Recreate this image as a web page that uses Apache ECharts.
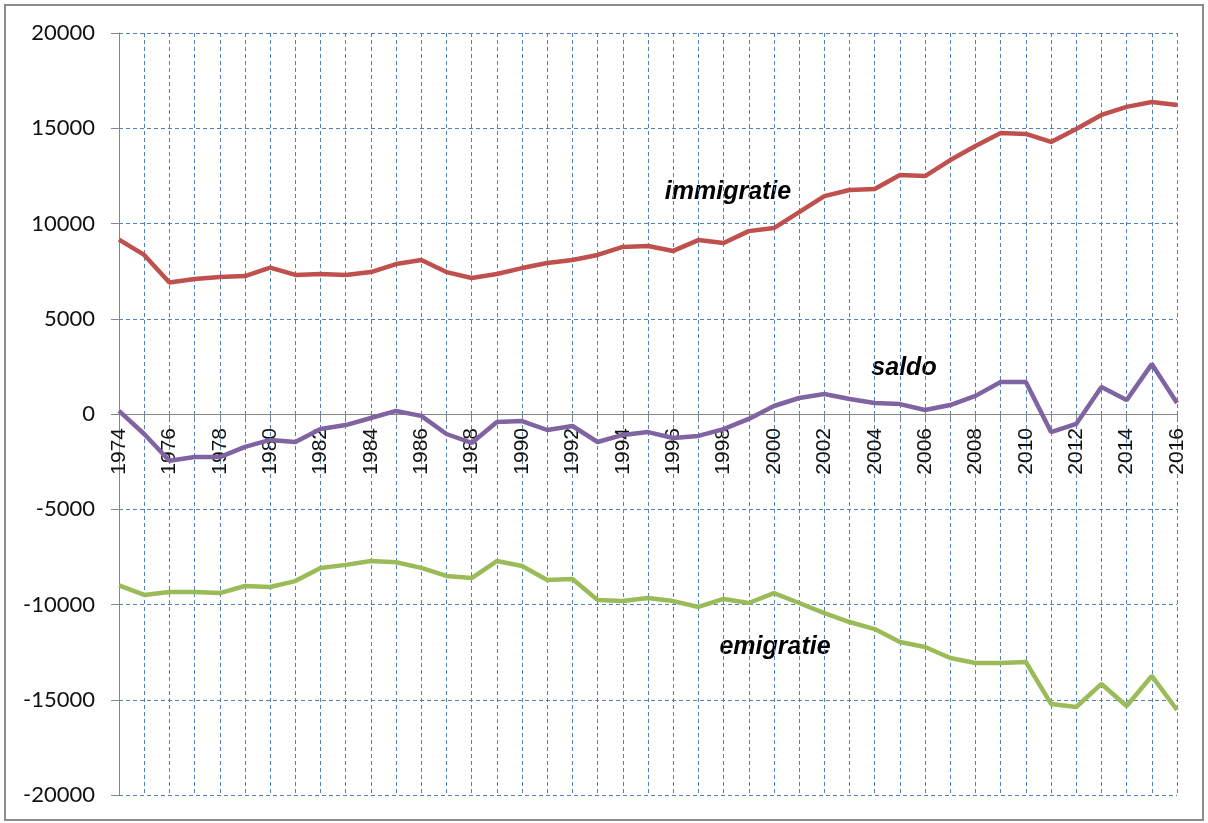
<!DOCTYPE html>
<html>
<head>
<meta charset="utf-8">
<script src="https://cdn.jsdelivr.net/npm/echarts@6/dist/echarts.min.js"></script>
<style>
    html, body { margin: 0; padding: 0; background: #fff; }
    #chart { width: 1208px; height: 823px; }
</style>
</head>
<body>
<div id="chart"></div>
<script>
// jaren
const years = []
for (let y = 1974; y <= 2016; y++) years.push(String(y))

// immigratie (rood)
const immigratie = [9150, 8350, 6900, 7090, 7190, 7240, 7680, 7300, 7350, 7300,
    7450, 7870, 8080, 7450, 7140, 7350, 7660, 7930, 8080, 8350,
    8770, 8820, 8560, 9130, 8980, 9600, 9760, 10600, 11440, 11760,
    11810, 12550, 12490, 13330, 14070, 14750, 14700, 14280, 14960, 15700,
    16120, 16380, 16220]

// saldo (paars)
const saldo = [160, -1050, -2450, -2260, -2260, -1730, -1360, -1470, -790, -580,
    -210, 160, -100, -1050, -1520, -420, -370, -840, -630, -1470,
    -1100, -950, -1260, -1150, -790, -260, 420, 840, 1050, 790,
    580, 520, 210, 470, 950, 1680, 1680, -950, -520, 1420,
    730, 2620, 580]

// emigratie (groen)
const emigratie = [-9000, -9500, -9340, -9340, -9400, -9030, -9080, -8770, -8080, -7920,
    -7720, -7780, -8080, -8500, -8610, -7720, -7980, -8710, -8660, -9760,
    -9820, -9660, -9820, -10130, -9710, -9920, -9400, -9920, -10450, -10920,
    -11290, -11970, -12230, -12810, -13070, -13070, -13020, -15220, -15380, -14170,
    -15330, -13750, -15540]

const chart = echarts.init(document.getElementById('chart'))

const gridColor = '#4F81BD'
const axisGray = '#868686'
const gridTop = 33
const gridBottom = 28
// hoogte van het plotvlak; de x-as ligt halverwege (op 0)
const plotHeight = 823 - gridTop - gridBottom

const option = {
    animation: false,
    grid: {
        left: 119,
        right: 31,
        top: gridTop,
        bottom: gridBottom,
        containLabel: false,
        outerBoundsMode: 'none'
    },
    xAxis: {
        type: 'category',
        data: years,
        boundaryGap: false,
        position: 'bottom',
        offset: -plotHeight / 2, // as op de nullijn
        axisLine: {
            onZero: false,
            lineStyle: { color: axisGray, width: 1 }
        },
        axisTick: {
            show: true,
            interval: 0,
            length: 6,
            lineStyle: { color: axisGray }
        },
        axisLabel: {
            interval: 1,
            rotate: 90,
            margin: 14,
            color: '#111',
            fontFamily: 'Liberation Sans',
            fontSize: 21
        },
        splitLine: {
            show: true,
            interval: 0,
            lineStyle: { color: gridColor, type: [4, 3], width: 1 }
        }
    },
    yAxis: {
        type: 'value',
        min: -20000,
        max: 20000,
        interval: 5000,
        axisLine: {
            show: true,
            lineStyle: { color: axisGray, width: 1 }
        },
        axisTick: {
            show: true,
            length: 8,
            lineStyle: { color: axisGray }
        },
        axisLabel: {
            margin: 24,
            color: '#111',
            fontFamily: 'Lato',
            fontSize: 22,
            formatter: v => String(v)
        },
        splitLine: {
            show: true,
            lineStyle: { color: gridColor, type: [4, 3], width: 1 }
        }
    },
    series: [
        {
            name: 'immigratie',
            type: 'line',
            data: immigratie,
            symbol: 'none',
            lineStyle: { color: '#C0504D', width: 4.5 },
            z: 3
        },
        {
            name: 'saldo',
            type: 'line',
            data: saldo,
            symbol: 'none',
            lineStyle: { color: '#8064A2', width: 4.5 },
            z: 3
        },
        {
            name: 'emigratie',
            type: 'line',
            data: emigratie,
            symbol: 'none',
            lineStyle: { color: '#9BBB59', width: 4.5 },
            z: 3
        }
    ],
    graphic: [
        // kader rond de grafiek
        {
            type: 'rect',
            shape: { x: 5, y: 5, width: 1198, height: 815 },
            style: { fill: 'none', stroke: '#8c8c8c', lineWidth: 2 },
            silent: true
        },
        {
            type: 'text',
            x: 728,
            y: 192,
            style: {
                text: 'immigratie',
                font: 'italic bold 25px "Liberation Sans"',
                fill: '#000',
                align: 'center',
                verticalAlign: 'middle'
            }
        },
        {
            type: 'text',
            x: 904,
            y: 368,
            style: {
                text: 'saldo',
                font: 'italic bold 25px "Liberation Sans"',
                fill: '#000',
                align: 'center',
                verticalAlign: 'middle'
            }
        },
        {
            type: 'text',
            x: 775,
            y: 647,
            style: {
                text: 'emigratie',
                font: 'italic bold 25px "Liberation Sans"',
                fill: '#000',
                align: 'center',
                verticalAlign: 'middle'
            }
        }
    ]
}

chart.setOption(option)
</script>
</body>
</html>
